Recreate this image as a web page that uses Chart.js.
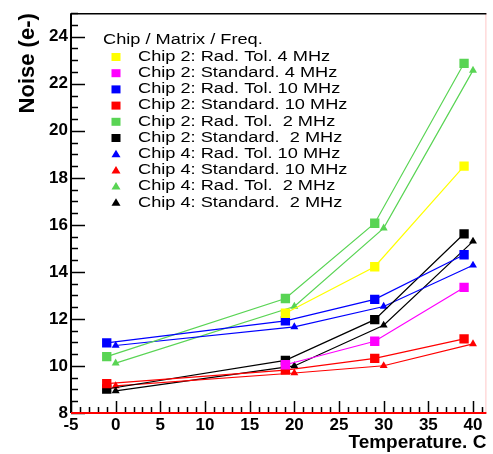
<!DOCTYPE html>
<html>
<head>
<meta charset="utf-8">
<script src="https://cdn.jsdelivr.net/npm/chart.js@4.4.1/dist/chart.umd.min.js"></script>
<style>
  html, body { margin: 0; padding: 0; background: #ffffff; }
  #wrap { width: 493px; height: 454px; }
</style>
</head>
<body>
<div id="wrap"><canvas id="c" width="493" height="454"></canvas></div>
<script>
// ---- Data ----
const tempChip2 = [-1, 19, 29, 39];          // chip 2 measurement temperatures (squares)
const tempChip2Short = [19, 29, 39];         // chip 2 series measured only at 3 temperatures
const tempChip4 = [0, 20, 30, 40];           // chip 4 measurement temperatures (triangles)

const chip2RadTol4MHz   = [12.24, 14.22, 18.50];
const chip2Standard4MHz = [10.05, 11.05, 13.34];
const chip2RadTol10MHz  = [10.98, 11.92, 12.83, 14.73];
const chip2Std10MHz     = [9.25, 9.82, 10.32, 11.15];
const chip2RadTol2MHz   = [10.40, 12.87, 16.07, 22.87];
const chip2Std2MHz      = [9.02, 10.24, 11.97, 15.62];
const chip4RadTol10MHz  = [10.87, 11.66, 12.53, 14.28];
const chip4Std10MHz     = [9.15, 9.70, 10.01, 10.94];
const chip4RadTol2MHz   = [10.12, 12.53, 15.86, 22.57];
const chip4Std2MHz      = [8.94, 10.00, 11.73, 15.30];

const seriesLabels = [
  'Chip 2: Rad. Tol. 4 MHz',
  'Chip 2: Standard. 4 MHz',
  'Chip 2: Rad. Tol. 10 MHz',
  'Chip 2: Standard. 10 MHz',
  'Chip 2: Rad. Tol.  2 MHz',
  'Chip 2: Standard.  2 MHz',
  'Chip 4: Rad. Tol. 10 MHz',
  'Chip 4: Standard. 10 MHz',
  'Chip 4: Rad. Tol.  2 MHz',
  'Chip 4: Standard.  2 MHz'
];
const legendTitle = 'Chip / Matrix / Freq.';
const xTickValues = [-5, 0, 5, 10, 15, 20, 25, 30, 35, 40];
const yTickValues = [8, 10, 12, 14, 16, 18, 20, 22, 24];
const xAxisTitle = 'Temperature. C';
const yAxisTitle = 'Noise (e-)';

// ---- Styles ----
const YELLOW = '#ffff00', MAGENTA = '#ff00ff', BLUE = '#0000ff', RED = '#ff0000',
      GREEN = '#59d454', BLACK = '#000000';

function pts(xs, ys) { return xs.map((x, i) => ({ x: x, y: ys[i] })); }
function ds(label, xs, ys, color, style) {
  return {
    label: label,
    data: pts(xs, ys),
    showLine: true,
    borderColor: color,
    backgroundColor: color,
    borderWidth: 1.2,
    pointStyle: style,
    pointRadius: style === 'rect' ? 6.6 : 4.6,
    pointHoverRadius: style === 'rect' ? 6.6 : 4.6,
    pointBorderWidth: 0,
    pointBackgroundColor: color,
    pointBorderColor: color
  };
}

const datasets = [
  ds(seriesLabels[0], tempChip2Short, chip2RadTol4MHz, YELLOW, 'rect'),
  ds(seriesLabels[1], tempChip2Short, chip2Standard4MHz, MAGENTA, 'rect'),
  ds(seriesLabels[2], tempChip2, chip2RadTol10MHz, BLUE, 'rect'),
  ds(seriesLabels[3], tempChip2, chip2Std10MHz, RED, 'rect'),
  ds(seriesLabels[4], tempChip2, chip2RadTol2MHz, GREEN, 'rect'),
  ds(seriesLabels[5], tempChip2, chip2Std2MHz, BLACK, 'rect'),
  ds(seriesLabels[6], tempChip4, chip4RadTol10MHz, BLUE, 'triangle'),
  ds(seriesLabels[7], tempChip4, chip4Std10MHz, RED, 'triangle'),
  ds(seriesLabels[8], tempChip4, chip4RadTol2MHz, GREEN, 'triangle'),
  ds(seriesLabels[9], tempChip4, chip4Std2MHz, BLACK, 'triangle')
];

// ---- Plugin: ROOT-style frame, inner tick marks, legend box ----
const rootStyle = {
  id: 'rootStyle',
  afterDatasetsDraw(chart) {
    const ctx = chart.ctx;
    const a = chart.chartArea;
    const xs = chart.scales.x, ys = chart.scales.y;
    ctx.save();
    // frame
    ctx.lineWidth = 1;
    ctx.strokeStyle = '#ffc8c8';
    ctx.beginPath(); ctx.moveTo(a.right - 0.5, a.top); ctx.lineTo(a.right - 0.5, a.bottom); ctx.stroke();
    ctx.strokeStyle = '#000';
    ctx.lineWidth = 1.5;
    ctx.beginPath(); ctx.moveTo(a.left, a.top + 0.5); ctx.lineTo(a.right, a.top + 0.5); ctx.stroke();
    ctx.lineWidth = 2;
    ctx.beginPath(); ctx.moveTo(a.left, a.top); ctx.lineTo(a.left, a.bottom); ctx.stroke();
    // y ticks (inside, pointing right)
    ctx.lineWidth = 1.5;
    for (let v = ys.min; v <= ys.max + 1e-9; v += 0.5) {
      const major = Math.abs(v / 2 - Math.round(v / 2)) < 1e-6;
      const py = Math.round(ys.getPixelForValue(v)) + 0.5;
      ctx.beginPath(); ctx.moveTo(a.left, py); ctx.lineTo(a.left + (major ? 14 : 7), py); ctx.stroke();
    }
    // x ticks (inside, pointing up)
    for (let v = Math.ceil(xs.min); v <= xs.max + 1e-9; v += 1) {
      const major = v % 5 === 0;
      const px = Math.round(xs.getPixelForValue(v)) + 0.5;
      ctx.beginPath(); ctx.moveTo(px, a.bottom); ctx.lineTo(px, a.bottom - (major ? 12 : 6)); ctx.stroke();
    }
    // bottom axis line (red)
    ctx.strokeStyle = '#ff0000';
    ctx.lineWidth = 2;
    ctx.beginPath(); ctx.moveTo(a.left, a.bottom); ctx.lineTo(a.right, a.bottom); ctx.stroke();

    // legend
    const sx = 1.3;
    ctx.fillStyle = '#000';
    ctx.font = '14px "Liberation Sans", Arial, sans-serif';
    ctx.textBaseline = 'middle';
    ctx.textAlign = 'left';
    ctx.save(); ctx.translate(103, 40); ctx.scale(sx, 1); ctx.fillText(legendTitle, 0, 0); ctx.restore();
    chart.data.datasets.forEach((d, i) => {
      const cy = 57 + i * 16.2;
      const cx = 116;
      ctx.fillStyle = d.backgroundColor;
      if (d.pointStyle === 'rect') {
        ctx.fillRect(cx - 4.5, cy - 4, 9, 8);
      } else {
        ctx.beginPath();
        ctx.moveTo(cx, cy - 4.5); ctx.lineTo(cx + 4.5, cy + 3); ctx.lineTo(cx - 4.5, cy + 3); ctx.closePath(); ctx.fill();
      }
      ctx.fillStyle = '#000';
      ctx.save(); ctx.translate(138, cy); ctx.scale(sx, 1); ctx.fillText(d.label, 0, 0); ctx.restore();
    });
    ctx.restore();
  }
};

new Chart(document.getElementById('c'), {
  type: 'scatter',
  data: { datasets: datasets },
  options: {
    responsive: false,
    devicePixelRatio: 1,
    animation: false,
    layout: { padding: { top: 8, right: 2, left: 0, bottom: 0 } },
    plugins: { legend: { display: false }, tooltip: { enabled: false } },
    scales: {
      x: {
        type: 'linear',
        position: 'bottom',
        min: -5, max: 41.5,
        grid: { display: false, drawTicks: false },
        border: { display: false },
        afterBuildTicks(scale) { scale.ticks = xTickValues.map(v => ({ value: v })); },
        afterFit(scale) { scale.height = 41; },
        ticks: {
          color: '#000', padding: 2, maxRotation: 0, autoSkip: false,
          font: { family: '"Liberation Sans", Arial, sans-serif', size: 17, weight: 'bold' }
        },
        title: {
          display: true, text: xAxisTitle, align: 'end', color: '#000',
          padding: { top: 0, bottom: 0 },
          font: { family: '"Liberation Sans", Arial, sans-serif', size: 19, weight: 'bold' }
        }
      },
      y: {
        type: 'linear',
        min: 8, max: 25,
        grid: { display: false, drawTicks: false },
        border: { display: false },
        afterBuildTicks(scale) { scale.ticks = yTickValues.map(v => ({ value: v })); },
        afterFit(scale) { scale.width = 71; },
        ticks: {
          color: '#000', padding: 3, autoSkip: false,
          font: { family: '"Liberation Sans", Arial, sans-serif', size: 17, weight: 'bold' }
        },
        title: {
          display: true, text: yAxisTitle, align: 'end', color: '#000',
          padding: { top: 15, bottom: 0 },
          font: { family: '"Liberation Sans", Arial, sans-serif', size: 22, weight: 'bold' }
        }
      }
    }
  },
  plugins: [rootStyle]
});
</script>
</body>
</html>
